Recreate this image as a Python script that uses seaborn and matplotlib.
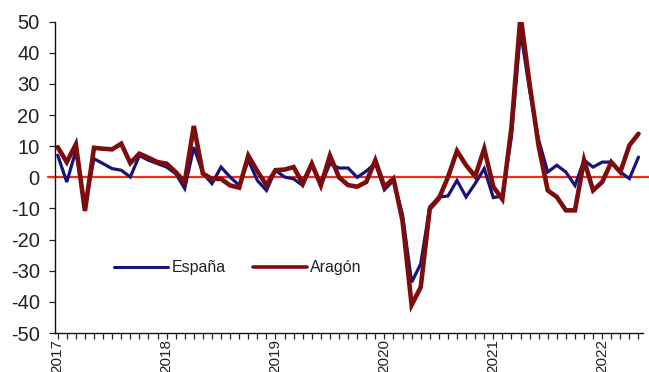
import numpy as np
import pandas as pd
import matplotlib
matplotlib.use("Agg")
import matplotlib.pyplot as plt
import seaborn as sns
from matplotlib.lines import Line2D

# Monthly year-on-year rates (%), January 2017 - May 2022
start_year = 2017
year_labels = ["2017", "2018", "2019", "2020", "2021", "2022"]

espana = [
    7.1, -1.5, 8.5, -9.0, 6.0, 4.4, 2.8, 2.3, 0.1, 7.0, 5.5, 4.4,
    3.3, 1.2, -3.6, 9.7, 1.3, -2.0, 3.3, 0.1, -2.6, 5.5, -1.0, -4.2,
    2.3, 0.1, -0.5, -2.6, 4.0, -2.5, 4.4, 3.0, 3.0, 0.0, 2.0, 4.5,
    -4.0, -1.0, -12.0, -33.7, -27.8, -9.5, -6.3, -6.0, -1.0, -6.3, -2.0, 2.8,
    -6.5, -6.0, 13.0, 47.0, 28.0, 12.0, 1.7, 3.9, 1.7, -2.6, 5.5, 3.3,
    4.9, 4.9, 1.7, -0.4, 6.5,
]

aragon = [
    9.7, 4.9, 10.6, -10.8, 9.5, 9.2, 9.0, 10.8, 4.6, 7.6, 6.3, 4.9,
    4.4, 1.7, -1.5, 16.5, 1.2, -0.5, -0.5, -2.6, -3.3, 7.0, 2.0, -2.5,
    2.3, 2.5, 3.3, -2.0, 4.4, -2.6, 7.0, 0.0, -2.5, -3.0, -1.5, 5.5,
    -3.0, -0.4, -14.0, -41.0, -35.3, -10.1, -6.8, 0.0, 8.5, 3.9, 0.3, 9.2,
    -3.0, -7.0, 16.0, 52.0, 30.0, 10.0, -4.2, -6.3, -10.6, -10.6, 5.5, -4.2,
    -1.5, 4.9, 1.7, 10.3, 14.0,
]

series_names = ["España", "Aragón"]
series_colors = ["#14147a", "#7d0c0c"]

n = len(espana)
months = np.arange(n)
df = pd.DataFrame({
    "mes": np.concatenate([months, months]),
    "valor": espana + aragon,
    "serie": [series_names[0]] * n + [series_names[1]] * n,
})

sns.set_style("ticks")
plt.rcParams["font.family"] = ["Liberation Sans", "DejaVu Sans"]
plt.rcParams["axes.unicode_minus"] = False

fig = plt.figure(figsize=(6.49, 3.72), dpi=100)
ax = fig.add_axes([0.0847, 0.1048, 0.9061, 0.8369])

# zero reference line, running slightly past both ends of the plot area
ax.plot([-1.1, 65.3], [0, 0], color="#f02a1e", lw=1.6, zorder=1, clip_on=False)

sns.lineplot(data=df, x="mes", y="valor", hue="serie",
             palette=dict(zip(series_names, series_colors)),
             ax=ax, legend=False, zorder=3)
ax.lines[1].set_linewidth(2.3)
ax.lines[2].set_linewidth(3.3)
ax.lines[2].set_zorder(4)
for ln in ax.lines[1:]:
    ln.set_solid_joinstyle("miter")

ax.set_xlim(-0.3, 64.5)
ax.set_ylim(-50, 50)
ax.set_yticks(np.arange(-50, 51, 10))
ax.set_xticks(np.arange(0, 65))
ax.set_xticklabels([
    year_labels[m // 12] if m % 12 == 0 else "" for m in range(65)
], rotation=90, fontsize=11, color="#222222")
ax.tick_params(axis="x", length=4.5, width=0.9, pad=0)
ax.tick_params(axis="y", length=4, width=0.9, labelsize=14.5, labelcolor="#222222", pad=7)
for lbl in ax.get_xticklabels():
    lbl.set_verticalalignment("top")

ax.set_xlabel("")
ax.set_ylabel("")
for side in ["top", "right"]:
    ax.spines[side].set_visible(False)
for side in ["left", "bottom"]:
    ax.spines[side].set_color("#111111")
    ax.spines[side].set_linewidth(1.0)

handles = [
    Line2D([], [], color=series_colors[0], lw=2.2),
    Line2D([], [], color=series_colors[1], lw=2.6),
]
ax.legend(handles, series_names, loc="center left", bbox_to_anchor=(0.076, 0.21),
          ncol=2, frameon=False, fontsize=11.5, handlelength=3.4,
          handletextpad=0.2, columnspacing=1.7, labelcolor="#222222")

fig.savefig("out.png", dpi=100)
